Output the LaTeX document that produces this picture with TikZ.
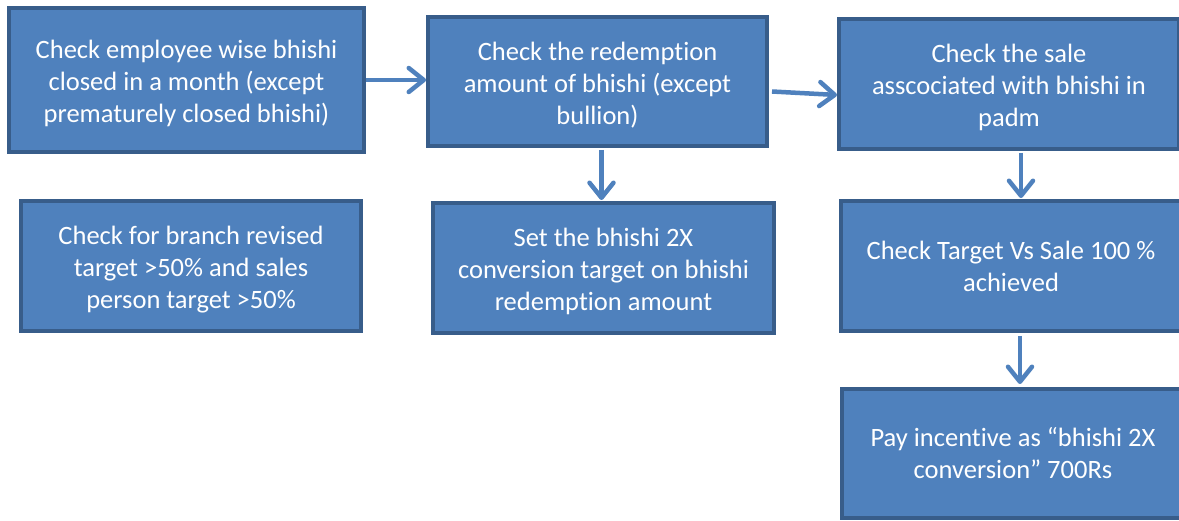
\documentclass[tikz,border=0pt]{standalone}
\usepackage{fontspec}
\setmainfont{Carlito}[Ligatures={NoCommon,NoContextual}, Contextuals=NoAlternate]
\usepackage{tikz}
\usetikzlibrary{arrows.meta, positioning, calc}
\definecolor{boxblue}{RGB}{79, 129, 189}
\definecolor{edgeblue}{RGB}{56, 93, 138}
\newcommand{\boxgap}{\rule{0pt}{25.5pt}}

\begin{document}
\begin{tikzpicture}[x=1pt, y=-1pt,
    stepbox/.style={draw=edgeblue, fill=boxblue, line width=4pt, text=white,
      minimum width=340pt, minimum height=130pt, inner sep=0pt, align=center,
      font=\fontsize{26.5}{32}\selectfont},
    flow/.style={draw=boxblue, line width=4.5pt,
      -{Straight Barb[length=15pt, width=24pt, line cap=round, line join=round]}}]
  \clip (0,0) rectangle (1179,521);
  \fill[white] (0,0) rectangle (1179,521);

  % top row
  \node[stepbox, minimum width=355pt, minimum height=144pt] (closed) at (186.5,80)
    {\boxgap Check employee wise bhishi\\closed in a month (except\\prematurely closed bhishi)};
  \node[stepbox, minimum width=339pt, minimum height=129pt] (redeem) at (597.5,81.5)
    {\boxgap Check the redemption\\amount of bhishi (except\\bullion)};
  \node[stepbox] (sale) at (1009,84)
    {\boxgap Check the sale\\asscociated with bhishi in\\padm};

  % second row
  \node[stepbox] (branch) at (191,266)
    {\boxgap Check for branch revised\\target >50\% and sales\\person target >50\%};
  \node[stepbox, minimum width=341pt] (settarget) at (603.5,268)
    {\boxgap Set the bhishi 2X\\conversion target on bhishi\\redemption amount};
  \node[stepbox] (achieved) at (1011,266)
    {Check Target Vs Sale 100 \%\\achieved};

  % last step
  \node[stepbox, minimum width=342pt, minimum height=129pt] (pay) at (1013,453.5)
    {Pay incentive as “bhishi 2X\\conversion” 700Rs};

  \draw[flow] (closed.east) -- (redeem.west |- closed.east);
  \draw[flow] ([xshift=3pt, yshift=-10pt]redeem.east) -- ([yshift=-11pt]sale.west);
  \draw[flow] ([xshift=4pt, yshift=-2pt]redeem.south) -- ([xshift=-2pt, yshift=1pt]settarget.north);
  \draw[flow] ([xshift=12pt, yshift=-2pt]sale.south) -- ([xshift=10pt, yshift=1pt]achieved.north);
  \draw[flow] ([xshift=9pt, yshift=-3pt]achieved.south) -- ([xshift=7pt, yshift=3pt]pay.north);
\end{tikzpicture}
\end{document}
